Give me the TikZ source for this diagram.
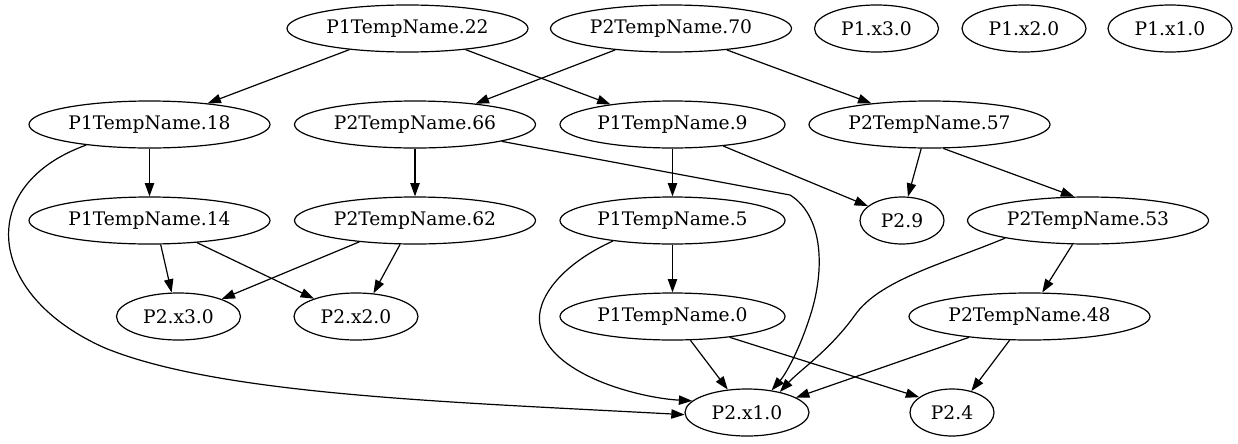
\documentclass[tikz,border=0pt]{standalone}
\usepackage{fontspec}
\setmainfont{DejaVu Serif}
\usetikzlibrary{arrows.meta,shapes.geometric}

\begin{document}
\begin{tikzpicture}[
    x=0.75pt, y=-0.75pt,
    font=\fontsize{14pt}{16pt}\selectfont,
    >={Triangle[length=10pt,width=7pt]},
    var/.style={draw, ellipse, line width=0.9pt, inner sep=0pt,
                minimum height=35.25pt},
    longvar/.style={var, minimum width=180.75pt},
    midvar/.style={var, minimum width=168.75pt},
    leafvar/.style={var, minimum width=93pt},
    tinyvar/.style={var, minimum width=63pt},
    dep/.style={->, line width=0.9pt},
]
    \useasboundingbox (0,0) rectangle (1238,443);

    % ============================================================
    %  NODES (one row per rank)
    % ============================================================
    % rank 0
    \node[longvar] (p1t22) at (407.5,28.5) {P1TempName.22};
    \node[longvar] (p2t70) at (671,28.5)   {P2TempName.70};
    \node[leafvar] (p1x3)  at (876.5,28.5) {P1.x3.0};
    \node[leafvar] (p1x2)  at (1024,28.5)  {P1.x2.0};
    \node[leafvar] (p1x1)  at (1170,28.5)  {P1.x1.0};
    % rank 1
    \node[longvar] (p1t18) at (149.5,124.5) {P1TempName.18};
    \node[longvar] (p2t66) at (415,124.5)   {P2TempName.66};
    \node[midvar]  (p1t9)  at (672.5,124.5) {P1TempName.9};
    \node[longvar] (p2t57) at (929.5,124.5) {P2TempName.57};
    % rank 2
    \node[longvar] (p1t14) at (149.5,220.5) {P1TempName.14};
    \node[longvar] (p2t62) at (415,220.5)   {P2TempName.62};
    \node[midvar]  (p1t5)  at (672.5,220.5) {P1TempName.5};
    \node[tinyvar] (p29)   at (902,220.5)   {P2.9};
    \node[longvar] (p2t53) at (1088,220.5)  {P2TempName.53};
    % rank 3
    \node[leafvar] (p2x3)  at (178.5,316.5) {P2.x3.0};
    \node[leafvar] (p2x2)  at (356,316.5)   {P2.x2.0};
    \node[midvar]  (p1t0)  at (672.5,316.5) {P1TempName.0};
    \node[longvar] (p2t48) at (1029.5,316.5) {P2TempName.48};
    % rank 4
    \node[leafvar] (p2x1)  at (747,412.5) {P2.x1.0};
    \node[tinyvar] (p24)   at (952,412.5) {P2.4};

    % ============================================================
    %  STRAIGHT EDGES
    % ============================================================
    \draw[dep] (p1t22.200) -- (p1t18.20);
    \draw[dep] (p1t22.340) -- (p1t9.162);
    \draw[dep] (p2t70.201) -- (p2t66.19);
    \draw[dep] (p2t70.339) -- (p2t57.160);
    \draw[dep] (p1t18) -- (p1t14);
    \draw[dep] (p2t66) -- (p2t62);
    \draw[dep] (p1t9) -- (p1t5);
    \draw[dep] (p1t5) -- (p1t0);
    \draw[dep] (p1t9.337) -- (p29.157);
    \draw[dep] (p2t57.251) -- (p29.76);
    \draw[dep] (p2t57.300) -- (p2t53.120);
    \draw[dep] (p1t14.295) -- (p2x3.106);
    \draw[dep] (p1t14.335) -- (p2x2.157);
    \draw[dep] (p2t62.201) -- (p2x3.22);
    \draw[dep] (p2t62.238) -- (p2x2.53);
    \draw[dep] (p2t53.237) -- (p2t48.62);
    \draw[dep] (p1t0.307) -- (p2x1.130);
    \draw[dep] (p1t0.340) -- (p24.155);
    \draw[dep] (p2t48.199) -- (p2x1.17);
    \draw[dep] (p2t48.230) -- (p24.48);

    % ============================================================
    %  CURVED EDGES (into P2.x1.0)
    % ============================================================
    \draw[dep] (p1t18.198) .. controls (-25,185) and (-15,295) .. (105,348)
        .. controls (220,395) and (450,402) .. (p2x1.182);
    \draw[dep] (p1t5.199) .. controls (560,265) and (535,300) .. (540,325)
        .. controls (548,375) and (640,398) .. (p2x1.168);
    \draw[dep] (p2t66.349) -- (790,195) .. controls (822,215) and (825,265) .. (812,310)
        .. controls (800,350) and (785,375) .. (p2x1.42);
    \draw[dep] (p2t53.192) .. controls (940,265) and (880,280) .. (855,315)
        .. controls (830,350) and (800,370) .. (p2x1.32);

\end{tikzpicture}
\end{document}
